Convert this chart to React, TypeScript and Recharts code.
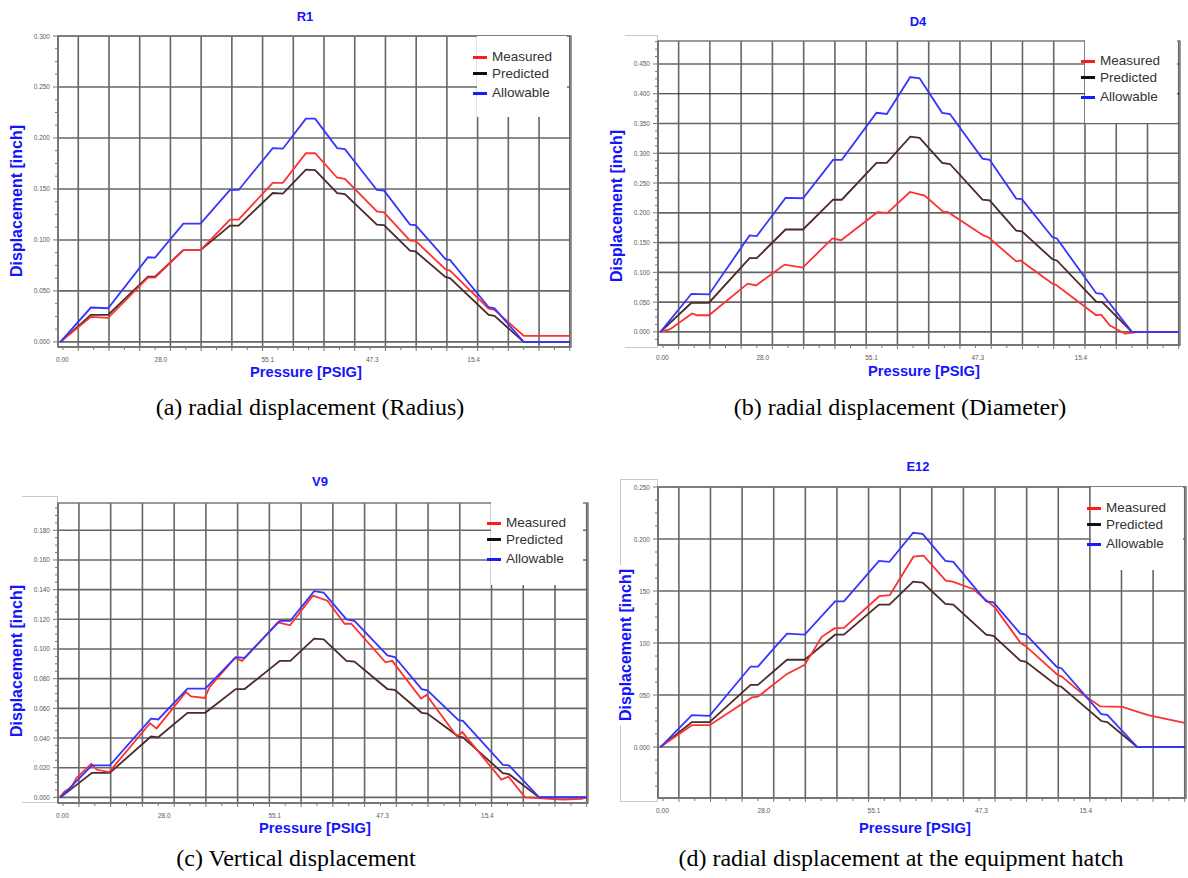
import React from 'react';
import { LineChart, Line, XAxis, YAxis, ReferenceLine, ReferenceArea, Legend } from 'recharts';

// ---------- shared x structure (pressure-step index; vertical grid lines at integers) ----------
const stepX = [-0.58, 0.41, 0.97, 2.27, 2.5, 3.42, 3.98, 4.94, 5.22, 6.33, 6.66, 7.41, 7.71, 8.43, 8.68, 9.72, 9.95, 10.8, 10.98, 11.96, 12.1, 13.36, 13.55, 14.5, 16];
const xTickPos = [-0.52, 2.69, 6.17, 9.57, 12.87];
const xTickLabels = ['0.00', '28.0', '55.1', '47.3', '15.4'];
const gridX = [0, 1, 2, 3, 4, 5, 6, 7, 8, 9, 10, 11, 12, 13, 14, 15, 16];
const xMinorTicks = [-0.5, 0, 0.5, 1, 1.5, 2, 2.5, 3, 3.5, 4, 4.5, 5, 5.5, 6, 6.5, 7, 7.5, 8, 8.5, 9, 9.5, 10, 10.5, 11, 11.5, 12, 12.5, 13, 13.5, 14, 14.5, 15, 15.5, 16];
const xDomain: [number, number] = [-0.66, 16.04];

const seriesNames = ['Measured', 'Predicted', 'Allowable'];

// ---------- (a) R1 ----------
const r1Ticks = [0, 0.05, 0.1, 0.15, 0.2, 0.25, 0.3];
const r1Allowable = [0, 0.0337, 0.033, 0.083, 0.0827, 0.116, 0.116, 0.149, 0.149, 0.19, 0.1895, 0.219, 0.219, 0.19, 0.189, 0.149, 0.1485, 0.115, 0.1145, 0.081, 0.0804, 0.034, 0.033, 0, 0];
const r1Predicted = [0, 0.0265, 0.0265, 0.064, 0.064, 0.09, 0.09, 0.114, 0.114, 0.146, 0.1455, 0.169, 0.1685, 0.146, 0.145, 0.115, 0.1145, 0.0896, 0.0887, 0.0634, 0.0625, 0.0265, 0.0255, 0, 0];
const r1MeasuredX = stepX;
const r1Measured = [0, 0.0245, 0.0235, 0.063, 0.063, 0.09, 0.09, 0.12, 0.12, 0.156, 0.156, 0.185, 0.185, 0.161, 0.16, 0.128, 0.127, 0.0994, 0.099, 0.071, 0.07, 0.0327, 0.0314, 0.006, 0.006];

// ---------- (b) D4 ----------
const d4Ticks = [0, 0.05, 0.1, 0.15, 0.2, 0.25, 0.3, 0.35, 0.4, 0.45];
const d4Allowable = [0, 0.064, 0.063, 0.162, 0.161, 0.225, 0.2245, 0.289, 0.289, 0.368, 0.366, 0.428, 0.426, 0.368, 0.366, 0.291, 0.289, 0.224, 0.223, 0.159, 0.157, 0.065, 0.064, 0, 0];
const d4Predicted = [0, 0.049, 0.049, 0.124, 0.124, 0.172, 0.172, 0.222, 0.222, 0.284, 0.284, 0.328, 0.326, 0.284, 0.282, 0.222, 0.221, 0.17, 0.169, 0.122, 0.12, 0.051, 0.05, 0, 0];
const d4MeasuredX = [-0.59, -0.27, 0.43, 0.59, 0.97, 2.21, 2.48, 3.39, 3.97, 4.92, 5.2, 6.36, 6.68, 7.4, 7.87, 8.46, 8.62, 9.75, 9.91, 10.8, 10.94, 11.96, 12.07, 13.36, 13.52, 13.79, 14.28, 14.76, 16];
const d4Measured = [0, 0.0045, 0.031, 0.028, 0.028, 0.081, 0.078, 0.113, 0.108, 0.157, 0.154, 0.201, 0.2, 0.235, 0.229, 0.202, 0.201, 0.162, 0.159, 0.1185, 0.12, 0.081, 0.079, 0.028, 0.029, 0.011, -0.003, 0, 0];

// ---------- (c) V9 ----------
const v9Ticks = [0, 0.02, 0.04, 0.06, 0.08, 0.1, 0.12, 0.14, 0.16, 0.18];
const v9Allowable = [0, 0.0215, 0.0215, 0.053, 0.0525, 0.0733, 0.0733, 0.0945, 0.094, 0.119, 0.119, 0.139, 0.138, 0.12, 0.119, 0.0957, 0.0946, 0.0729, 0.0722, 0.052, 0.0516, 0.0219, 0.0215, 0, 0];
const v9Predicted = [0, 0.0165, 0.0165, 0.041, 0.0405, 0.057, 0.057, 0.073, 0.073, 0.092, 0.092, 0.107, 0.1065, 0.092, 0.0915, 0.073, 0.0725, 0.057, 0.0565, 0.041, 0.0405, 0.0163, 0.0156, 0, 0];
const v9MeasuredX = [-0.61, -0.45, -0.24, -0.08, 0.39, 0.57, 0.95, 2.24, 2.45, 3.37, 3.53, 3.96, 4.12, 4.92, 5.14, 6.27, 6.65, 7.37, 7.83, 8.37, 8.58, 9.66, 9.87, 10.78, 10.95, 11.91, 12.08, 13.31, 13.53, 14.06, 15.25, 15.84, 16];
const v9Measured = [0, 0.004, 0.0067, 0.013, 0.0226, 0.0186, 0.017, 0.05, 0.0465, 0.071, 0.068, 0.067, 0.0744, 0.094, 0.092, 0.118, 0.116, 0.136, 0.1325, 0.117, 0.117, 0.091, 0.092, 0.0666, 0.069, 0.041, 0.044, 0.012, 0.014, 0, -0.0015, -0.001, 0];

// ---------- (d) E12 ----------
const e12Ticks = [0, 0.05, 0.1, 0.15, 0.2, 0.25];
const e12Allowable = [0, 0.0306, 0.03, 0.0774, 0.0774, 0.109, 0.108, 0.14, 0.14, 0.179, 0.178, 0.206, 0.205, 0.179, 0.178, 0.14, 0.139, 0.109, 0.108, 0.0768, 0.0758, 0.0316, 0.031, 0, 0];
const e12Predicted = [0, 0.024, 0.024, 0.0597, 0.0597, 0.0839, 0.0839, 0.108, 0.108, 0.137, 0.137, 0.159, 0.158, 0.1377, 0.137, 0.108, 0.107, 0.083, 0.082, 0.059, 0.058, 0.025, 0.024, 0, 0];
const e12MeasuredX = [-0.59, 0.41, 0.97, 2.31, 2.5, 3.42, 3.98, 4.52, 4.92, 5.22, 6.34, 6.67, 7.42, 7.74, 8.44, 8.66, 9.3, 10.0, 10.81, 10.97, 11.99, 12.1, 12.85, 13.33, 14.03, 14.84, 16];
const e12Measured = [0, 0.021, 0.021, 0.0477, 0.0484, 0.0703, 0.079, 0.106, 0.114, 0.1145, 0.145, 0.146, 0.183, 0.184, 0.16, 0.159, 0.152, 0.134, 0.1, 0.097, 0.069, 0.068, 0.049, 0.039, 0.0387, 0.0306, 0.0232];

// ---------- styles ----------
const RED = '#ff3030';
const DARK = '#4d2a2a';
const BLUE = '#3535ff';
const LEGEND_COLORS = ['#ff1a1a', '#111111', '#1a1aff'];
const GRID = '#666666';
const TITLE_BLUE = '#1414ff';
const SANS = '"Liberation Sans", Arial, sans-serif';
const SERIF = '"Liberation Serif", "Times New Roman", serif';

type Cfg = {
  id: string; title: string; caption: string;
  left: number; top: number; width: number; height: number;
  margin: { top: number; right: number; left: number; bottom: number };
  yAxisW: number; xAxisH: number;
  yDomain: [number, number]; yTicks: number[]; darkLineY?: number;
  measuredX: number[]; measured: number[]; predicted: number[]; allowable: number[];
  legend: { x: number; y: number; w: number; h: number };
  yLabel: { x: number; y: number }; xLabel: { x: number; y: number };
  titlePos: { x: number; y: number }; captionPos: { x: number; y: number };
};

const pts = (xs: number[], ys: number[]) => xs.map((x, i) => ({ x, y: ys[i] }));

function quarterTicks(domain: [number, number], step: number) {
  const q = step / 4;
  const out: number[] = [];
  const start = Math.ceil(domain[0] / q - 1e-9);
  const end = Math.floor(domain[1] / q + 1e-9);
  for (let k = start; k <= end; k++) out.push(+(k * q).toFixed(6));
  return out;
}

function renderXTick(props: any) {
  const { x, y, payload } = props;
  const i = xTickPos.indexOf(payload.value);
  if (i >= 0) {
    return (
      <text x={x} y={y + 12} textAnchor="middle" dominantBaseline="central" fontSize={6.5} fill="#5a5a5a" fontFamily={SANS}>
        {xTickLabels[i]}
      </text>
    );
  }
  const major = Number.isInteger(payload.value);
  return <line x1={x} x2={x} y1={y} y2={y + (major ? 4 : 3)} stroke="#777" strokeWidth={1} />;
}

function makeYTick(majors: number[]) {
  return (props: any) => {
    const { x, y, payload } = props;
    const v = payload.value as number;
    const isMajor = majors.some((m) => Math.abs(m - v) < 1e-9);
    return (
      <g>
        <line x1={x - (isMajor ? 5 : 3)} x2={x} y1={y} y2={y} stroke="#777" strokeWidth={1} />
        {isMajor && (
          <text x={x - 8} y={y} textAnchor="end" dominantBaseline="central" fontSize={6.5} fill="#5a5a5a" fontFamily={SANS}>
            {v.toFixed(3)}
          </text>
        )}
      </g>
    );
  };
}

function LegendBox({ w, h }: { w: number; h: number }) {
  const rows = [21, 37.5, 57];
  return (
    <div style={{ position: 'relative', width: w, height: h, background: '#fff' }}>
      {seriesNames.map((n, i) => (
        <div key={n} style={{ position: 'absolute', left: -4, top: rows[i] - 8, height: 16, display: 'flex', alignItems: 'center', whiteSpace: 'nowrap' }}>
          <span style={{ display: 'inline-block', width: 14, height: 3, background: LEGEND_COLORS[i] }} />
          <span style={{ marginLeft: 5, fontSize: 13.5, lineHeight: '16px', color: '#333', fontFamily: SANS }}>{n}</span>
        </div>
      ))}
    </div>
  );
}

function Panel({ c }: { c: Cfg }) {
  const yTickAll = quarterTicks(c.yDomain, c.yTicks[1] - c.yTicks[0]);
  const xTicks = [...xMinorTicks, ...xTickPos].sort((a, b) => a - b);
  const xl = c.xLabel;
  const yl = c.yLabel;
  return (
    <div style={{ position: 'absolute', left: c.left, top: c.top, width: c.width, height: c.height }}>
      <LineChart width={c.width} height={c.height} margin={c.margin}>
        <XAxis
          type="number"
          dataKey="x"
          domain={xDomain}
          allowDataOverflow
          ticks={xTicks}
          interval={0}
          tickSize={0}
          tickMargin={0}
          tickLine={false}
          axisLine={{ stroke: '#6a6a6a', strokeWidth: 1.5 }}
          tick={renderXTick}
          height={c.xAxisH}
          label={{
            content: () => (
              <text x={xl.x} y={xl.y} textAnchor="middle" dominantBaseline="central" fontSize={14.7} fontWeight="bold" fill={TITLE_BLUE} fontFamily={SANS}>
                Pressure [PSIG]
              </text>
            ),
          }}
        />
        <YAxis
          type="number"
          domain={c.yDomain}
          allowDataOverflow
          ticks={yTickAll}
          interval={0}
          tickSize={0}
          tickMargin={0}
          tickLine={false}
          axisLine={{ stroke: '#6a6a6a', strokeWidth: 1.5 }}
          tick={makeYTick(c.yTicks)}
          width={c.yAxisW}
        />
        {gridX.map((g) => (
          <ReferenceLine key={'gx' + g} x={g} stroke={GRID} strokeWidth={1.6} zIndex={-100} />
        ))}
        {c.yTicks.map((t) => (
          <ReferenceLine key={'gy' + t} y={t} stroke={c.darkLineY === t ? '#1e1e1e' : GRID} strokeWidth={c.darkLineY === t ? 1.2 : 1.6} zIndex={-100} />
        ))}
        <ReferenceArea x1={xDomain[0]} x2={xDomain[1]} y1={c.yDomain[0]} y2={c.yDomain[1]} fill="none" fillOpacity={0} stroke="#7a7a7a" strokeWidth={1.5} zIndex={-100} />
        <Legend
          layout="vertical"
          align="center"
          verticalAlign="middle"
          wrapperStyle={{ left: c.legend.x, top: c.legend.y, width: c.legend.w, height: c.legend.h, margin: 0, padding: 0 }}
          content={() => <LegendBox w={c.legend.w} h={c.legend.h} />}
        />
        <Line data={pts(stepX, c.predicted)} dataKey="y" name="Predicted" type="linear" stroke={DARK} strokeWidth={1.8} dot={false} activeDot={false} isAnimationActive={false} />
        <Line data={pts(c.measuredX, c.measured)} dataKey="y" name="Measured" type="linear" stroke={RED} strokeWidth={1.8} dot={false} activeDot={false} isAnimationActive={false} />
        <Line data={pts(stepX, c.allowable)} dataKey="y" name="Allowable" type="linear" stroke={BLUE} strokeWidth={1.8} dot={false} activeDot={false} isAnimationActive={false} />
      </LineChart>
      {/* y-axis title: white label box, drawn above the tick labels as in the source screenshots */}
      <div
        style={{
          position: 'absolute', left: yl.x - 80, top: yl.y - 13, width: 160, height: 26, lineHeight: '26px',
          textAlign: 'center', background: '#fff', transform: 'rotate(-90deg)', transformOrigin: '50% 50%',
          fontSize: 16, fontWeight: 'bold', color: TITLE_BLUE, fontFamily: SANS, whiteSpace: 'nowrap',
        }}
      >
        Displacement [inch]
      </div>
    </div>
  );
}

const panels: Cfg[] = [
  {
    id: 'a', title: 'R1', caption: '(a) radial displacement (Radius)',
    left: 0, top: 0, width: 594, height: 392,
    margin: { top: 36, right: 23, left: 14, bottom: 0 }, yAxisW: 44, xAxisH: 45,
    yDomain: [-0.005, 0.3], yTicks: r1Ticks,
    measuredX: r1MeasuredX, measured: r1Measured, predicted: r1Predicted, allowable: r1Allowable,
    legend: { x: 477, y: 36, w: 90, h: 81 },
    yLabel: { x: 17, y: 201 }, xLabel: { x: 306, y: 372 },
    titlePos: { x: 305, y: 17 }, captionPos: { x: 310, y: 407 },
  },
  {
    id: 'b', title: 'D4', caption: '(b) radial displacement (Diameter)',
    left: 594, top: 0, width: 594, height: 392,
    margin: { top: 41, right: 8, left: 20, bottom: 0 }, yAxisW: 44, xAxisH: 47,
    yDomain: [-0.022, 0.4886], yTicks: d4Ticks, darkLineY: 0.4,
    measuredX: d4MeasuredX, measured: d4Measured, predicted: d4Predicted, allowable: d4Allowable,
    legend: { x: 491, y: 40, w: 92, h: 83 },
    yLabel: { x: 23, y: 206 }, xLabel: { x: 330, y: 371 },
    titlePos: { x: 918, y: 22 }, captionPos: { x: 900, y: 407 },
  },
  {
    id: 'c', title: 'V9', caption: '(c) Vertical displacement',
    left: 0, top: 440, width: 594, height: 400,
    margin: { top: 63, right: 6, left: 14, bottom: 0 }, yAxisW: 44, xAxisH: 37,
    yDomain: [-0.0038, 0.1984], yTicks: v9Ticks,
    measuredX: v9MeasuredX, measured: v9Measured, predicted: v9Predicted, allowable: v9Allowable,
    legend: { x: 491, y: 62, w: 92, h: 83 },
    yLabel: { x: 17, y: 221 }, xLabel: { x: 315, y: 388 },
    titlePos: { x: 320, y: 482 }, captionPos: { x: 296, y: 858 },
  },
  {
    id: 'd', title: 'E12', caption: '(d) radial displacement at the equipment hatch',
    left: 594, top: 440, width: 594, height: 400,
    margin: { top: 47, right: 2, left: 20, bottom: 0 }, yAxisW: 44, xAxisH: 42,
    yDomain: [-0.049, 0.25], yTicks: e12Ticks,
    measuredX: e12MeasuredX, measured: e12Measured, predicted: e12Predicted, allowable: e12Allowable,
    legend: { x: 497, y: 47, w: 92, h: 83 },
    yLabel: { x: 32, y: 205 }, xLabel: { x: 321, y: 388 },
    titlePos: { x: 918, y: 467 }, captionPos: { x: 901, y: 858 },
  },
];

const frames = [
  { left: 625, top: 35, width: 33, height: 313, sides: ['Top', 'Bottom', 'Right'] },
  { left: 22, top: 496, width: 36, height: 307, sides: ['Top', 'Bottom', 'Right'] },
  { left: 620, top: 479, width: 38, height: 323, sides: ['Top', 'Bottom', 'Left', 'Right'] },
];

export default function App() {
  return (
    <div style={{ position: 'absolute', left: 0, top: 0, width: 1188, height: 878, background: '#fff', overflow: 'hidden', fontFamily: SANS }}>
      {frames.map((f, i) => {
        const st: any = { position: 'absolute', left: f.left, top: f.top, width: f.width, height: f.height, boxSizing: 'border-box' };
        f.sides.forEach((s) => (st['border' + s] = '1px solid #c8c8c8'));
        return <div key={'f' + i} style={st} />;
      })}
      {panels.map((c) => (
        <Panel key={c.id} c={c} />
      ))}
      {panels.map((c) => (
        <div key={'t' + c.id} style={{ position: 'absolute', left: c.titlePos.x - 30, top: c.titlePos.y - 8, width: 60, lineHeight: '16px', textAlign: 'center', fontSize: 13, fontWeight: 'bold', color: TITLE_BLUE, fontFamily: SANS }}>
          {c.title}
        </div>
      ))}
      {panels.map((c) => (
        <div key={'c' + c.id} style={{ position: 'absolute', left: c.captionPos.x - 300, top: c.captionPos.y - 14, width: 600, lineHeight: '28px', textAlign: 'center', fontSize: 24, color: '#000', fontFamily: SERIF }}>
          {c.caption}
        </div>
      ))}
    </div>
  );
}
